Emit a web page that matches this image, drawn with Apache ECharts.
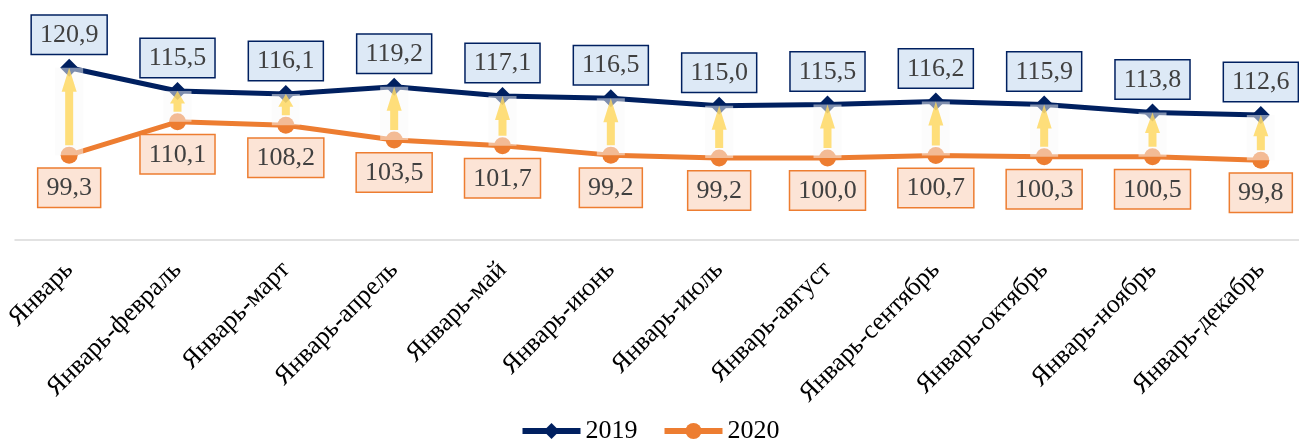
<!DOCTYPE html>
<html>
<head>
<meta charset="utf-8">
<script src="https://cdn.jsdelivr.net/npm/echarts@6/dist/echarts.min.js"></script>
<style>
html,body{margin:0;padding:0;background:#fff;}
#c{width:1299px;height:441px;}
</style>
</head>
<body>
<div id="c"></div>
<script>
const categories = ['Январь','Январь-февраль','Январь-март','Январь-апрель','Январь-май','Январь-июнь','Январь-июль','Январь-август','Январь-сентябрь','Январь-октябрь','Январь-ноябрь','Январь-декабрь'];
// label texts printed on the chart
const labels2019 = ['120,9','115,5','116,1','119,2','117,1','116,5','115,0','115,5','116,2','115,9','113,8','112,6'];
const labels2020 = ['99,3','110,1','108,2','103,5','101,7','99,2','99,2','100,0','100,7','100,3','100,5','99,8'];
// plotted positions (the drawn points do not follow the printed labels exactly)
const plotted2019 = [120.8,115.3,114.6,116.3,114.1,113.6,111.8,112.1,112.8,112.1,110.2,109.6];
const plotted2020 = [100.1,108.0,107.2,103.7,102.3,100.1,99.4,99.4,100.0,99.7,99.7,98.9];
const seriesNames = ['2019','2020'];

const FONT = '"Liberation Serif", "DejaVu Serif", serif';

const chart = echarts.init(document.getElementById('c'), null, {renderer:'canvas'});

const arrowData = categories.map((c, i) => [i, plotted2019[i], plotted2020[i]]);

chart.setOption({
  animation: false,
  grid: {left: 15, width: 1300, top: 50, height: 190, containLabel: false, outerBoundsMode: 'none'},
  legend: {
    bottom: -8,
    left: 'center',
    itemWidth: 58,
    itemHeight: 20,
    itemGap: 24,
    textStyle: {fontFamily: FONT, fontSize: 26, color: '#000'},
    data: [
      {name: seriesNames[0], lineStyle: {width: 6}},
      {name: seriesNames[1], lineStyle: {width: 6}}
    ]
  },
  xAxis: {
    type: 'category',
    data: categories,
    boundaryGap: true,
    axisLine: {show: true, lineStyle: {color: '#d9d9d9', width: 1.5}},
    axisTick: {show: false},
    axisLabel: {
      rotate: 45,
      margin: 26,
      interval: 0,
      fontFamily: FONT,
      fontSize: 26,
      color: '#000'
    }
  },
  yAxis: {
    type: 'value',
    min: 80,
    max: 125,
    show: false,
    splitLine: {show: false}
  },
  series: [
    {
      name: seriesNames[0],
      type: 'line',
      data: plotted2019,
      z: 2,
      symbol: 'diamond',
      symbolSize: 18,
      lineStyle: {color: '#002060', width: 5},
      itemStyle: {color: '#002060'},
      label: {
        show: true,
        position: 'top',
        distance: 5,
        formatter: p => labels2019[p.dataIndex],
        fontFamily: FONT,
        fontSize: 26,
        lineHeight: 27,
        color: '#404040',
        backgroundColor: '#dde9f6',
        borderColor: '#002060',
        borderWidth: 1.5,
        padding: [6, 8, 5, 8]
      }
    },
    {
      name: seriesNames[1],
      type: 'line',
      data: plotted2020,
      z: 2,
      symbol: 'circle',
      symbolSize: 17,
      lineStyle: {color: '#ed7d31', width: 5},
      itemStyle: {color: '#ed7d31'},
      label: {
        show: true,
        position: 'bottom',
        distance: 5,
        formatter: p => labels2020[p.dataIndex],
        fontFamily: FONT,
        fontSize: 26,
        lineHeight: 27,
        color: '#404040',
        backgroundColor: '#fce4d6',
        borderColor: '#ed7d31',
        borderWidth: 1.5,
        padding: [6, 8, 5, 8]
      }
    },
    {
      type: 'custom',
      z: 3,
      silent: true,
      data: arrowData,
      renderItem: function (params, api) {
        const top = api.coord([api.value(0), api.value(1)]);
        const bot = api.coord([api.value(0), api.value(2)]);
        const x = top[0];
        const yt = top[1];
        const yb = bot[1];
        const y0 = yb - 10;
        const L = y0 - yt;
        const h = Math.min(24, L * 0.6);
        const sw = 4, hw = 7.5;
        return {
          type: 'group',
          children: [
            {
              type: 'rect',
              shape: {x: x - 14, y: yt, width: 28, height: yb - yt},
              style: {fill: 'rgba(250,250,250,0.5)'}
            },
            {
              type: 'polygon',
              shape: {points: [
                [x - sw, y0], [x + sw, y0], [x + sw, yt + h], [x + hw, yt + h],
                [x, yt], [x - hw, yt + h], [x - sw, yt + h]
              ]},
              style: {fill: 'rgba(255,215,90,0.8)'}
            }
          ]
        };
      }
    }
  ]
});
</script>
</body>
</html>
